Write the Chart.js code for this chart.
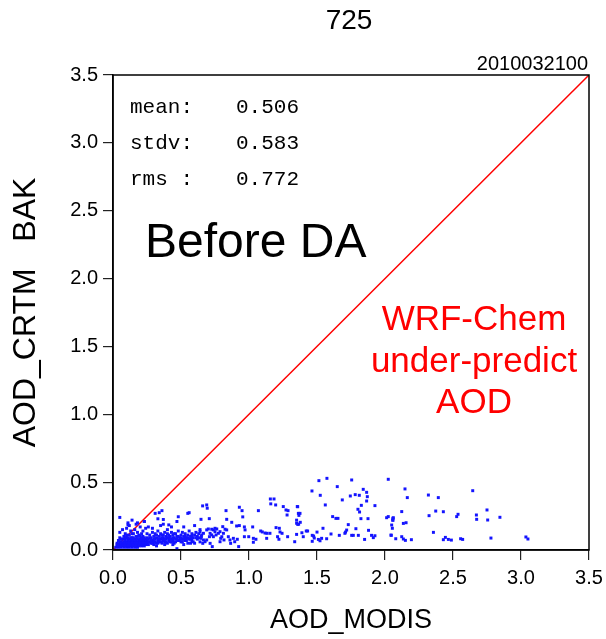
<!DOCTYPE html>
<html>
<head>
<meta charset="utf-8">
<script src="https://cdn.jsdelivr.net/npm/chart.js@4/dist/chart.umd.min.js"></script>
<style>
  body { margin: 0; background: #fff; }
  #wrap { width: 606px; height: 639px; }
</style>
</head>
<body>
<div id="wrap"><canvas id="scatterChart" width="606" height="639"></canvas></div>
<script>
// axis range and tick step (AOD)
var axisMin = 0.0;
var axisMax = 3.5;
var tickStep = 0.5;

// [AOD_MODIS, AOD_CRTM BAK] pairs
// dense cluster near the origin
var pointsCore = [
  [0.02,0.02],[0.03,0.03],[0.03,0.05],[0.04,0.02],[0.04,0.04],[0.04,0.07],[0.05,0.03],[0.05,0.05],
  [0.05,0.09],[0.06,0.02],[0.06,0.04],[0.06,0.06],[0.07,0.03],[0.07,0.05],[0.07,0.08],[0.08,0.02],
  [0.08,0.04],[0.08,0.06],[0.08,0.10],[0.09,0.03],[0.09,0.05],[0.09,0.07],[0.10,0.02],[0.10,0.04],
  [0.10,0.06],[0.10,0.09],[0.11,0.03],[0.11,0.05],[0.11,0.07],[0.12,0.02],[0.12,0.04],[0.12,0.06],
  [0.12,0.08],[0.12,0.11],[0.13,0.03],[0.13,0.05],[0.13,0.07],[0.14,0.02],[0.14,0.04],[0.14,0.06],
  [0.14,0.09],[0.15,0.03],[0.15,0.05],[0.15,0.07],[0.15,0.12],[0.16,0.02],[0.16,0.04],[0.16,0.06],
  [0.16,0.08],[0.17,0.03],[0.17,0.05],[0.17,0.07],[0.17,0.10],[0.18,0.02],[0.18,0.04],[0.18,0.06],
  [0.18,0.08],[0.19,0.03],[0.19,0.05],[0.19,0.07],[0.19,0.11],[0.20,0.04],[0.20,0.06],[0.20,0.08],
  [0.21,0.03],[0.21,0.05],[0.21,0.07],[0.21,0.09],[0.22,0.04],[0.22,0.06],[0.22,0.10],[0.23,0.03],
  [0.23,0.05],[0.23,0.07],[0.24,0.04],[0.24,0.06],[0.24,0.08],[0.25,0.05],[0.25,0.07],[0.25,0.12],
  [0.05,0.24],[0.05,0.13],[0.07,0.15],[0.09,0.12],[0.10,0.16],[0.11,0.185],[0.12,0.18],[0.13,0.14],
  [0.16,0.15],[0.18,0.13],[0.18,0.20],[0.20,0.17],[0.22,0.14],[0.23,0.21],[0.24,0.16],[0.14,0.22],
  [0.17,0.19],[0.11,0.20],
  [0.03,0.04],[0.04,0.03],[0.05,0.06],[0.06,0.05],[0.07,0.04],[0.08,0.05],[0.09,0.04],[0.09,0.09],
  [0.10,0.05],[0.11,0.04],[0.11,0.09],[0.12,0.05],[0.13,0.04],[0.13,0.09],[0.14,0.05],[0.15,0.04],
  [0.15,0.09],[0.16,0.05],[0.17,0.04],[0.18,0.05],[0.19,0.04],[0.20,0.05],[0.20,0.10],[0.22,0.05],
  [0.23,0.09],[0.24,0.05],[0.25,0.09],[0.06,0.08],[0.10,0.11],[0.14,0.12],[0.18,0.10],[0.21,0.12]
];

// band between 0.25 and 0.65
var pointsBand = [
  [0.26,0.04],[0.26,0.08],[0.27,0.06],[0.27,0.11],[0.28,0.05],[0.28,0.09],[0.29,0.07],[0.29,0.13],
  [0.30,0.04],[0.30,0.06],[0.30,0.10],[0.31,0.08],[0.31,0.12],[0.32,0.05],[0.32,0.09],[0.33,0.07],
  [0.33,0.14],[0.34,0.06],[0.34,0.10],[0.35,0.08],[0.35,0.12],[0.36,0.05],[0.36,0.09],[0.37,0.07],
  [0.37,0.11],[0.38,0.06],[0.38,0.13],[0.39,0.08],[0.39,0.10],[0.40,0.05],[0.40,0.09],[0.40,0.15],
  [0.41,0.07],[0.41,0.11],[0.42,0.06],[0.42,0.10],[0.43,0.08],[0.43,0.13],[0.44,0.07],[0.44,0.11],
  [0.45,0.09],[0.45,0.05],[0.46,0.08],[0.46,0.12],[0.47,0.01],[0.47,0.10],[0.48,0.07],[0.48,0.14],
  [0.49,0.09],[0.50,0.06],[0.50,0.11],[0.51,0.08],[0.51,0.13],[0.52,0.10],[0.53,0.07],[0.53,0.12],
  [0.54,0.09],[0.55,0.05],[0.55,0.11],[0.56,0.08],[0.56,0.14],[0.57,0.10],[0.58,0.07],[0.58,0.12],
  [0.59,0.09],[0.60,0.11],[0.60,0.05],[0.61,0.13],[0.62,0.08],[0.62,0.10],[0.63,0.12],[0.64,0.06],
  [0.64,0.15],[0.31,0.27],[0.34,0.275],[0.36,0.29],[0.33,0.23],[0.37,0.225],[0.41,0.185],[0.47,0.21],
  [0.48,0.245],[0.55,0.27],[0.56,0.275],[0.23,0.21],[0.35,0.18],[0.37,0.19],[0.43,0.17],[0.52,0.17],
  [0.60,0.18],[0.29,0.16],[0.26,0.17],
  [0.26,0.06],[0.27,0.09],[0.28,0.07],[0.29,0.05],[0.30,0.08],[0.31,0.06],[0.32,0.11],[0.33,0.05],
  [0.34,0.08],[0.35,0.06],[0.36,0.11],[0.37,0.09],[0.38,0.08],[0.39,0.06],[0.40,0.12],[0.41,0.09],
  [0.42,0.08],[0.43,0.06],[0.44,0.09],[0.45,0.12],[0.46,0.06],[0.47,0.08],[0.48,0.10],[0.49,0.07],
  [0.50,0.09],[0.51,0.06],[0.52,0.08],[0.53,0.10],[0.54,0.07],[0.55,0.09],[0.57,0.08],[0.58,0.10],
  [0.59,0.06],[0.61,0.09],[0.63,0.09],[0.65,0.10],[0.32,0.03],[0.38,0.04],[0.44,0.04],[0.52,0.04],
  [0.57,0.05]
];

// 0.64 to 1.4
var pointsMid = [
  [0.640,0.135],[0.652,0.111],[0.665,0.123],[0.689,0.148],[0.701,0.155],[0.714,0.123],[0.726,0.153],
  [0.738,0.148],[0.750,0.160],[0.763,0.155],[0.750,0.135],[0.726,0.111],[0.709,0.098],[0.689,0.074],
  [0.677,0.061],[0.665,0.074],[0.660,0.049],[0.738,0.098],[0.758,0.111],[0.775,0.123],[0.787,0.135],
  [0.800,0.098],[0.812,0.123],[0.816,0.074],[0.787,0.061],[0.792,0.086],[0.836,0.148],[0.848,0.098],
  [0.860,0.074],[0.865,0.049],[0.824,0.153],[0.807,0.172],[0.647,0.086],[0.714,0.049],[0.730,0.025],
  [0.659,0.325],[0.689,0.332],[0.693,0.308],[0.708,0.231],[0.647,0.226],[0.831,0.290],[0.836,0.226],
  [0.873,0.204],[0.929,0.315],[0.949,0.290],[0.954,0.244],[1.069,0.290],[1.157,0.376],[1.184,0.376],
  [1.160,0.340],[1.196,0.332],[1.252,0.320],[1.272,0.295],[1.287,0.290],[1.280,0.258],[1.350,0.197],
  [1.365,0.190],[0.909,0.177],[0.929,0.180],[0.966,0.170],[0.971,0.148],[1.027,0.170],[1.086,0.140],
  [1.098,0.133],[1.118,0.125],[1.132,0.123],[1.154,0.123],[1.199,0.165],[1.223,0.160],[1.228,0.133],
  [1.243,0.123],[0.885,0.086],[0.895,0.061],[0.914,0.079],[0.966,0.098],[0.998,0.098],[1.032,0.086],
  [1.032,0.057],[1.051,0.079],[0.924,0.025],[1.130,0.086],[1.210,0.098],[1.220,0.079],[1.284,0.098],
  [1.336,0.061],[1.355,0.320],[1.375,0.270],[1.350,0.220]
];

// 1.35 to 3.1
var pointsHigh = [
  [1.573,0.528],[1.514,0.511],[1.755,0.516],[2.024,0.521],[1.463,0.435],[1.649,0.467],[1.524,0.403],
  [1.686,0.369],[1.745,0.398],[1.781,0.408],[1.811,0.403],[1.840,0.447],[1.865,0.425],[1.870,0.393],
  [1.865,0.361],[1.826,0.329],[1.561,0.332],[1.358,0.319],[1.363,0.270],[1.367,0.255],[1.801,0.300],
  [1.813,0.280],[1.926,0.327],[1.377,0.204],[1.358,0.189],[1.615,0.246],[1.639,0.233],[1.654,0.233],
  [1.730,0.187],[1.718,0.147],[1.710,0.132],[1.786,0.157],[1.823,0.231],[1.875,0.231],[1.879,0.145],
  [2.012,0.238],[2.024,0.246],[2.058,0.233],[2.058,0.219],[1.389,0.127],[1.421,0.140],[1.431,0.140],
  [1.350,0.115],[1.399,0.098],[1.465,0.108],[1.475,0.103],[1.480,0.088],[1.500,0.132],[1.522,0.068],
  [1.534,0.086],[1.544,0.160],[1.571,0.083],[1.603,0.118],[1.664,0.108],[1.755,0.108],[1.767,0.108],
  [1.804,0.108],[1.850,0.078],[1.901,0.108],[1.914,0.091],[1.926,0.105],[2.046,0.108],[1.465,0.064],
  [1.510,0.078],[1.705,0.123],
  [2.147,0.450],[2.164,0.386],[2.319,0.405],[2.392,0.386],[2.645,0.437],[2.123,0.283],[2.061,0.238],
  [2.057,0.221],[2.135,0.196],[2.155,0.201],[2.049,0.184],[2.054,0.160],[2.324,0.253],[2.373,0.287],
  [2.429,0.282],[2.527,0.246],[2.537,0.263],[2.672,0.258],[2.674,0.226],[2.750,0.295],[2.755,0.221],
  [2.044,0.110],[2.079,0.083],[2.123,0.098],[2.135,0.081],[2.150,0.071],[2.194,0.076],[2.356,0.130],
  [2.429,0.076],[2.444,0.093],[2.466,0.078],[2.488,0.073],[2.556,0.083],[2.571,0.078],
  [2.845,0.241],[2.779,0.088],[3.036,0.096],[3.051,0.081]
];

// 1:1 reference line
var oneToOne = [[0, 0], [3.5, 3.5]];

var statLabels = ['mean:', 'stdv:', 'rms :'];
var statValues = ['0.506', '0.583', '0.772'];

function toXY(pairs) {
  return pairs.map(function (p) { return { x: p[0], y: p[1] }; });
}

var allPoints = toXY(pointsCore.concat(pointsBand, pointsMid, pointsHigh));

// frame and free text
var annotate = {
  id: 'annotate',
  afterDraw: function (chart) {
    var ctx = chart.ctx, a = chart.chartArea;
    ctx.save();
    ctx.strokeStyle = '#000';
    ctx.lineWidth = 1.5;
    ctx.strokeRect(a.left, a.top, a.right - a.left, a.bottom - a.top);

    ctx.fillStyle = '#000';
    ctx.textBaseline = 'middle';
    ctx.textAlign = 'center';
    ctx.font = '28px "Liberation Sans", Arial, sans-serif';
    ctx.fillText('725', 349, 21);

    ctx.textAlign = 'right';
    ctx.font = '20px "Liberation Sans", Arial, sans-serif';
    ctx.fillText('2010032100', 588, 64);

    ctx.textAlign = 'left';
    ctx.font = '21px "Liberation Mono", "Courier New", monospace';
    for (var i = 0; i < statLabels.length; i++) {
      ctx.fillText(statLabels[i], 130, 107 + i * 36);
      ctx.fillText(statValues[i], 236, 107 + i * 36);
    }

    ctx.font = '48px "Liberation Sans", Arial, sans-serif';
    ctx.fillText('Before DA', 145, 244);

    ctx.fillStyle = '#ff0000';
    ctx.textAlign = 'center';
    ctx.font = '35px "Liberation Sans", Arial, sans-serif';
    ctx.fillText('WRF-Chem', 474, 320);
    ctx.fillText('under-predict', 474, 362);
    ctx.fillText('AOD', 474, 403);
    ctx.restore();
  }
};

var axisFont = { family: '"Liberation Sans", Arial, sans-serif', size: 20 };
var tickGrid = {
  drawOnChartArea: false, drawTicks: true, tickLength: 10,
  color: '#222', tickColor: '#222', lineWidth: 1.2, tickWidth: 1.2
};

new Chart(document.getElementById('scatterChart').getContext('2d'), {
  type: 'scatter',
  data: {
    datasets: [
      {
        label: 'obs',
        data: allPoints,
        backgroundColor: '#1414ff',
        borderWidth: 0,
        pointStyle: 'rect',
        pointRadius: 2.1
      },
      {
        type: 'line',
        label: '1:1',
        data: toXY(oneToOne),
        borderColor: '#ff0000',
        borderWidth: 1.5,
        pointRadius: 0,
        fill: false
      }
    ]
  },
  options: {
    responsive: false,
    animation: false,
    devicePixelRatio: 1,
    layout: { padding: { top: 75, right: 17, left: 0, bottom: 0 } },
    plugins: { legend: { display: false }, tooltip: { enabled: false } },
    scales: {
      x: {
        type: 'linear',
        min: axisMin, max: axisMax,
        afterFit: function (scale) {
          scale.height = 89;
          scale.paddingLeft = 0;
          scale.paddingRight = 0;
        },
        ticks: {
          stepSize: tickStep,
          color: '#000', font: axisFont, padding: 6, maxRotation: 0,
          callback: function (v) { return Number(v).toFixed(1); }
        },
        grid: tickGrid,
        border: { display: true, color: '#000', width: 1.5 },
        title: {
          display: true, text: 'AOD_MODIS', color: '#000',
          font: { family: '"Liberation Sans", Arial, sans-serif', size: 27 },
          padding: { top: 0, bottom: 2 }
        }
      },
      y: {
        type: 'linear',
        min: axisMin, max: axisMax,
        afterFit: function (scale) {
          scale.width = 113;
          scale.paddingTop = 0;
          scale.paddingBottom = 0;
        },
        ticks: {
          stepSize: tickStep,
          color: '#000', font: axisFont, padding: 5,
          callback: function (v) { return Number(v).toFixed(1); }
        },
        grid: tickGrid,
        border: { display: true, color: '#000', width: 1.5 },
        title: {
          display: true, text: 'AOD_CRTM   BAK', color: '#000',
          font: { family: '"Liberation Sans", Arial, sans-serif', size: 32 },
          padding: { top: 7, bottom: 0 }
        }
      }
    }
  },
  plugins: [annotate]
});
</script>
</body>
</html>
